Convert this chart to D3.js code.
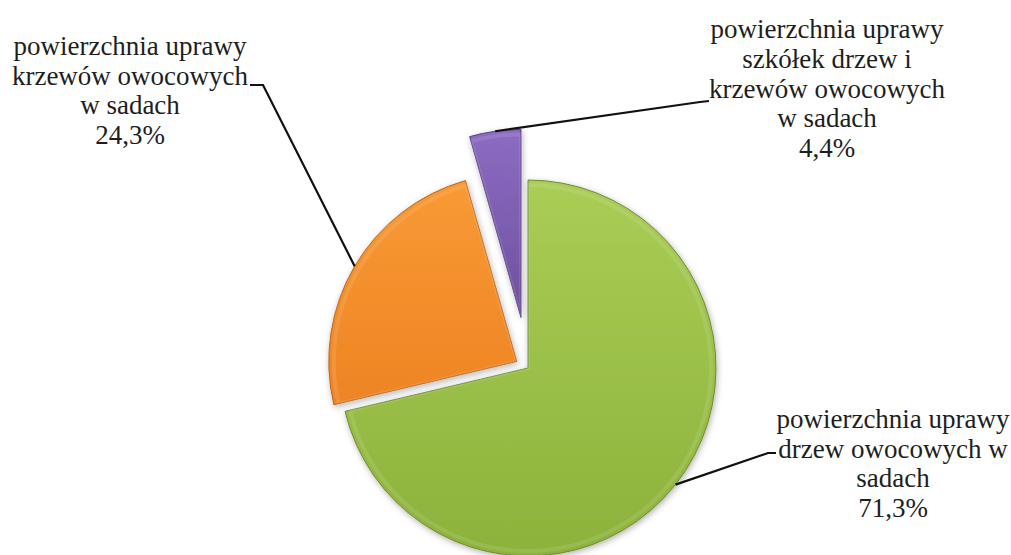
<!DOCTYPE html>
<html><head><meta charset="utf-8">
<script src="https://cdn.jsdelivr.net/npm/d3@7"></script>
<style>body{margin:0;background:#fff}svg{display:block}</style>
</head><body>
<svg id="c" width="1011" height="555"></svg>
<script>
const categories = [
  "powierzchnia uprawy drzew owocowych w sadach",
  "powierzchnia uprawy krzewów owocowych w sadach",
  "powierzchnia uprawy szkółek drzew i krzewów owocowych w sadach"
];
const values = [71.3, 24.3, 4.4];
const valueLabels = ["71,3%", "24,3%", "4,4%"];
const labelLines = [
  ["powierzchnia uprawy", "drzew owocowych w", "sadach", "71,3%"],
  ["powierzchnia uprawy", "krzewów owocowych", "w sadach", "24,3%"],
  ["powierzchnia uprawy", "szkółek drzew i", "krzewów owocowych", "w sadach", "4,4%"]
];
const colors = [["#a9cd55", "#8db23c"], ["#f89a34", "#ee8424"], ["#8c6cc2", "#6f4f9f"]];

const svg = d3.select("#c");
const cx = 528, cy = 368, R = 188;
const explode = [0, 13, 51];
const labelLayout = [
  {x: 893, y: 428, lh: 29.7, end: [768, 453], tick: [776, 453]},
  {x: 130, y: 55, lh: 29.5, end: [263, 85], tick: [250, 85]},
  {x: 827, y: 38, lh: 29.75, end: [700, 102], tick: [709, 101]}
];

const defs = svg.append("defs");
const f = defs.append("filter").attr("id", "sh").attr("x", "-20%").attr("y", "-20%").attr("width", "140%").attr("height", "140%");
f.append("feDropShadow").attr("dx", 1).attr("dy", 2).attr("stdDeviation", 3).attr("flood-color", "#000").attr("flood-opacity", 0.3);
colors.forEach((c, i) => {
  const g = defs.append("linearGradient").attr("id", "g" + i).attr("x1", 0).attr("y1", 0).attr("x2", 0).attr("y2", 1);
  g.append("stop").attr("offset", "0%").attr("stop-color", c[0]);
  g.append("stop").attr("offset", "100%").attr("stop-color", c[1]);
});

const pie = d3.pie().sort(null).value(d => d).startAngle(0).endAngle(2 * Math.PI);
const arcs = pie(values);
const arc = d3.arc().innerRadius(0).outerRadius(R);
const innerArc = d3.arc().innerRadius(0).outerRadius(R - 5);

const slices = svg.append("g");
const leaders = svg.append("g");
const labels = svg.append("g");

arcs.forEach((a, i) => {
  const mid = (a.startAngle + a.endAngle) / 2;
  const ox = cx + Math.sin(mid) * explode[i];
  const oy = cy - Math.cos(mid) * explode[i];
  const g = slices.append("g").attr("transform", `translate(${ox},${oy})`);
  g.append("path").attr("d", arc(a)).attr("fill", `url(#g${i})`).attr("filter", "url(#sh)")
    .attr("stroke", d3.color(colors[i][1]).darker(0.7)).attr("stroke-width", 1);
  g.append("path").attr("d", innerArc(a)).attr("fill", "none")
    .attr("stroke", "#fff").attr("stroke-opacity", 0.1).attr("stroke-width", 4);
  const px = ox + Math.sin(mid) * R, py = oy - Math.cos(mid) * R;
  const L = labelLayout[i];
  leaders.append("path").attr("d", `M${px},${py}L${L.end[0]},${L.end[1]}L${L.tick[0]},${L.tick[1]}`)
    .attr("fill", "none").attr("stroke", "#111").attr("stroke-width", 2.2);
  labelLines[i].forEach((ln, j) => {
    labels.append("text")
      .attr("x", L.x).attr("y", L.y + j * L.lh)
      .attr("text-anchor", "middle")
      .attr("font-size", 27)
      .style("font-family", '"Liberation Serif"')
      .attr("fill", "#1e1e1e")
      .text(ln);
  });
});
</script>
</body></html>
